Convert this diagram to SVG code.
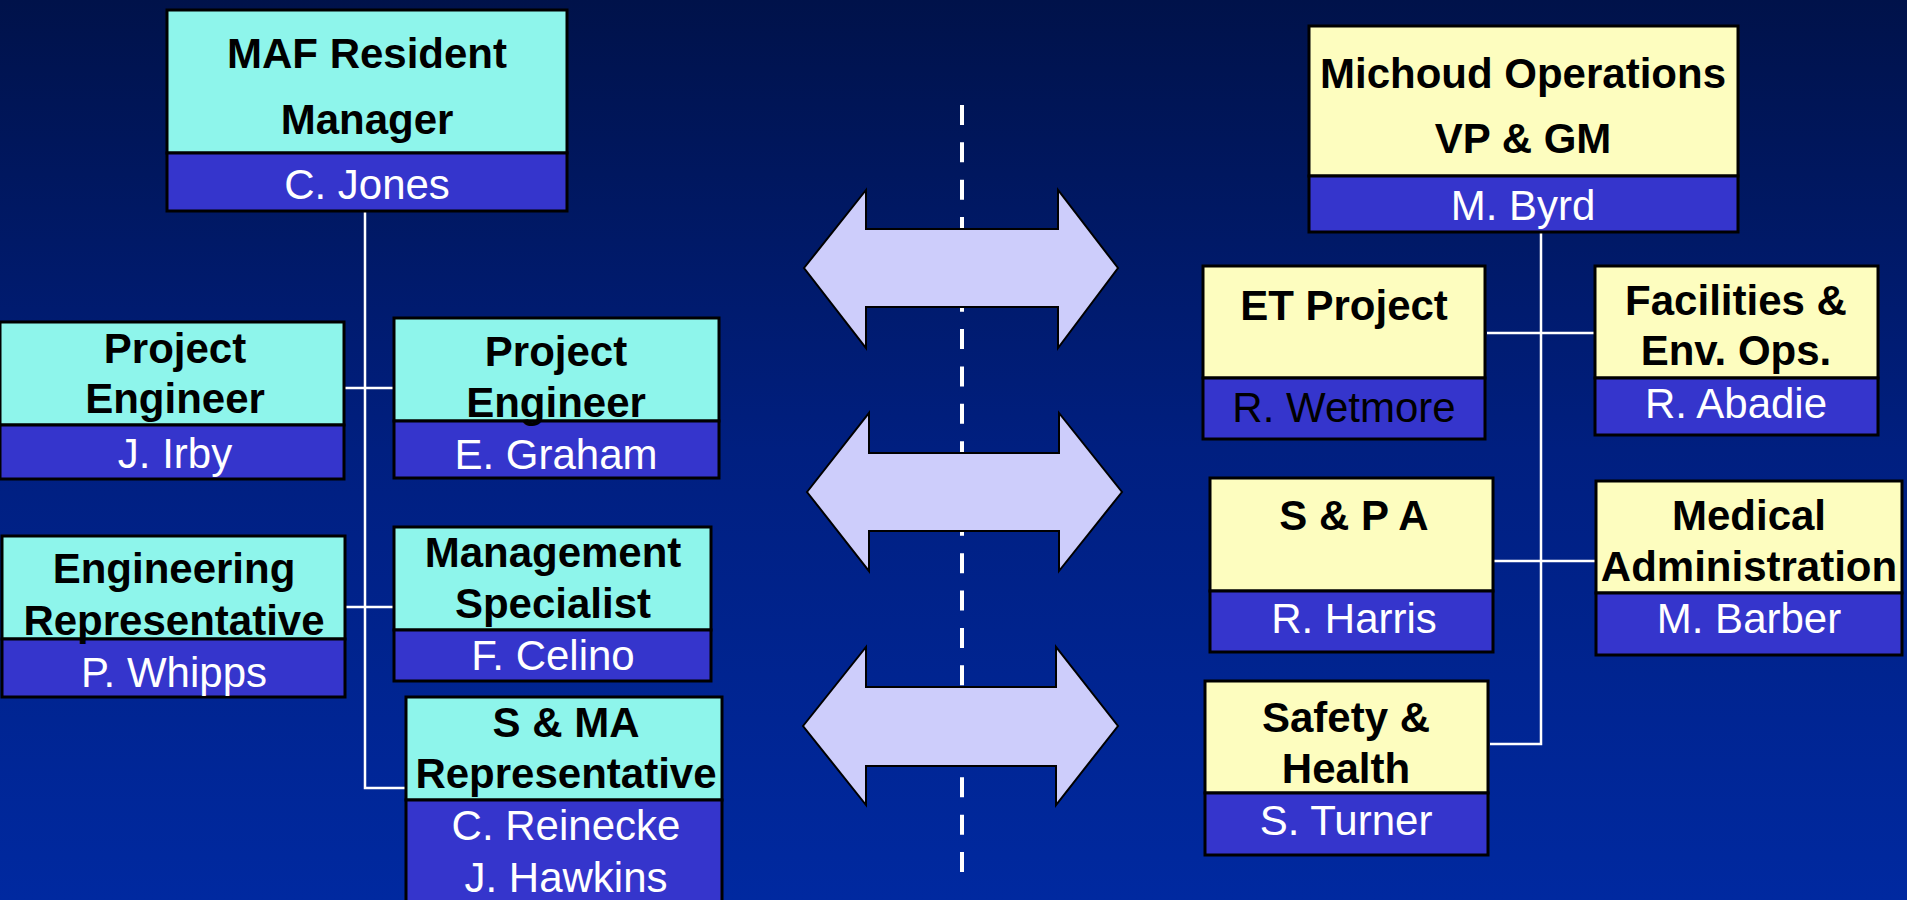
<svg xmlns="http://www.w3.org/2000/svg" width="1907" height="900" viewBox="0 0 1907 900">
<defs>
<linearGradient id="bg" x1="0" y1="0" x2="0" y2="1">
<stop offset="0" stop-color="#00124a"/>
<stop offset="0.5" stop-color="#001f80"/>
<stop offset="1" stop-color="#0029a0"/>
</linearGradient>
<style>
.cy{fill:#8ef5eb;stroke:#000;stroke-width:3}
.yl{fill:#fdfdbf;stroke:#000;stroke-width:3}
.bl{fill:#3535cc;stroke:#000;stroke-width:3}
.t{font-family:"Liberation Sans",Arial,sans-serif;font-weight:bold;font-size:42px;fill:#000;text-anchor:middle}
.n{font-family:"Liberation Sans",Arial,sans-serif;font-size:42px;fill:#fff;text-anchor:middle}
.nk{fill:#000}
.c{stroke:#fff;stroke-width:2.5;fill:none}
.ar{fill:#cdcdfb;stroke:#000;stroke-width:2}
</style>
</defs>
<rect width="1907" height="900" fill="url(#bg)"/>
<g id="connectors">
<polyline class="c" points="365,211 365,788 406,788"/>
<line class="c" x1="345" y1="388" x2="394" y2="388"/>
<line class="c" x1="345" y1="607" x2="394" y2="607"/>
<polyline class="c" points="1541,232 1541,744 1490,744"/>
<line class="c" x1="1487" y1="333" x2="1595" y2="333"/>
<line class="c" x1="1493" y1="561" x2="1596" y2="561"/>
</g>
<line x1="962" y1="105" x2="962" y2="874" stroke="#fff" stroke-width="4" stroke-dasharray="20 17.35"/>
<g id="arrows">
<polygon class="ar" points="804,268 866,190 866,229 1058,229 1058,190 1118,268 1058,348 1058,307 866,307 866,348"/>
<polygon class="ar" points="807,492 869,413 869,453 1059,453 1059,413 1122,492 1059,571 1059,531 869,531 869,571"/>
<polygon class="ar" points="803,726 866,647 866,687 1056,687 1056,647 1118,726 1056,805 1056,766 866,766 866,805"/>
</g>
<g id="maf">
<rect class="cy" x="167" y="10" width="400" height="143"/>
<rect class="bl" x="167" y="153" width="400" height="58"/>
<text class="t" x="367" y="68">MAF Resident</text>
<text class="t" x="367" y="134">Manager</text>
<text class="n" x="367" y="199">C. Jones</text>
</g>
<g id="irby">
<rect class="cy" x="0" y="322" width="344" height="103"/>
<rect class="bl" x="0" y="425" width="344" height="54"/>
<text class="t" x="175" y="363">Project</text>
<text class="t" x="175" y="413">Engineer</text>
<text class="n" x="175" y="468">J. Irby</text>
</g>
<g id="graham">
<rect class="cy" x="394" y="318" width="325" height="103"/>
<rect class="bl" x="394" y="421" width="325" height="57"/>
<text class="t" x="556" y="366">Project</text>
<text class="t" x="556" y="417">Engineer</text>
<text class="n" x="556" y="469">E. Graham</text>
</g>
<g id="whipps">
<rect class="cy" x="2" y="536" width="343" height="103"/>
<rect class="bl" x="2" y="639" width="343" height="58"/>
<text class="t" x="174" y="583">Engineering</text>
<text class="t" x="174" y="635">Representative</text>
<text class="n" x="174" y="687">P. Whipps</text>
</g>
<g id="celino">
<rect class="cy" x="394" y="527" width="317" height="103"/>
<rect class="bl" x="394" y="630" width="317" height="51"/>
<text class="t" x="553" y="567">Management</text>
<text class="t" x="553" y="618">Specialist</text>
<text class="n" x="553" y="670">F. Celino</text>
</g>
<g id="sma">
<rect class="cy" x="406" y="697" width="316" height="103"/>
<rect class="bl" x="406" y="800" width="316" height="110"/>
<text class="t" x="566" y="737">S &amp; MA</text>
<text class="t" x="566" y="788">Representative</text>
<text class="n" x="566" y="840">C. Reinecke</text>
<text class="n" x="566" y="892">J. Hawkins</text>
</g>
<g id="byrd">
<rect class="yl" x="1309" y="26" width="429" height="150"/>
<rect class="bl" x="1309" y="176" width="429" height="56"/>
<text class="t" x="1523" y="88">Michoud Operations</text>
<text class="t" x="1523" y="153">VP &amp; GM</text>
<text class="n" x="1523" y="220">M. Byrd</text>
</g>
<g id="wetmore">
<rect class="yl" x="1203" y="266" width="282" height="112"/>
<rect class="bl" x="1203" y="378" width="282" height="61"/>
<text class="t" x="1344" y="320">ET Project</text>
<text class="n nk" x="1344" y="422">R. Wetmore</text>
</g>
<g id="abadie">
<rect class="yl" x="1595" y="266" width="283" height="112"/>
<rect class="bl" x="1595" y="378" width="283" height="57"/>
<text class="t" x="1736" y="315">Facilities &amp;</text>
<text class="t" x="1736" y="365">Env. Ops.</text>
<text class="n" x="1736" y="418">R. Abadie</text>
</g>
<g id="harris">
<rect class="yl" x="1210" y="478" width="283" height="113"/>
<rect class="bl" x="1210" y="591" width="283" height="61"/>
<text class="t" x="1354" y="530">S &amp; P A</text>
<text class="n" x="1354" y="633">R. Harris</text>
</g>
<g id="barber">
<rect class="yl" x="1596" y="481" width="306" height="112"/>
<rect class="bl" x="1596" y="593" width="306" height="62"/>
<text class="t" x="1749" y="530">Medical</text>
<text class="t" x="1749" y="581">Administration</text>
<text class="n" x="1749" y="633">M. Barber</text>
</g>
<g id="turner">
<rect class="yl" x="1205" y="681" width="283" height="112"/>
<rect class="bl" x="1205" y="793" width="283" height="62"/>
<text class="t" x="1346" y="732">Safety &amp;</text>
<text class="t" x="1346" y="783">Health</text>
<text class="n" x="1346" y="835">S. Turner</text>
</g>
</svg>
